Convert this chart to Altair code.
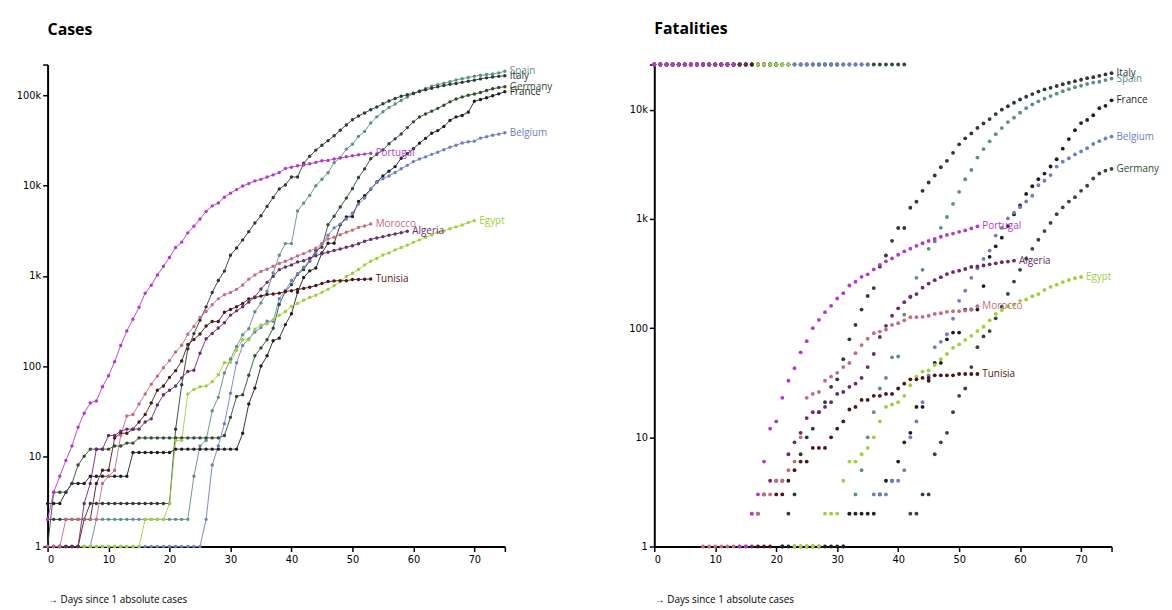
import altair as alt
import pandas as pd

COUNTRIES = ["Spain", "Italy", "France", "Germany", "Belgium",
             "Egypt", "Tunisia", "Algeria", "Morocco", "Portugal"]
COLORS = ["#5d8e8c", "#2b3a33", "#1e1e1e", "#2f4c31", "#6d7ec4",
          "#9fd03a", "#4d1515", "#6a2a6c", "#c46b7c", "#b33ac9"]

X_TICKS = [0, 10, 20, 30, 40, 50, 60, 70, 75]
CASES_TICKS = [1, 10, 100, 1000, 10000, 100000, 219764]
DEATHS_TICKS = [1, 10, 100, 1000, 10000, 25969]

# cumulative confirmed cases, index = days since first case
cases = {
    "Spain": [1, 1, 1, 1, 1, 1, 1, 1, 2, 2, 2, 2, 2, 2, 2, 2, 2, 2, 2, 2, 2, 2, 2, 2,
              6, 13, 15, 32, 45, 84, 120, 165, 222, 259, 400, 500, 673, 1073, 1695, 2277,
              2277, 5232, 6391, 7798, 9942, 11748, 13910, 17963, 20410, 25374, 28768, 35136,
              39885, 49515, 57786, 65719, 73235, 80110, 87956, 95923, 104118, 112065, 119199,
              126168, 131646, 136675, 141942, 148220, 153222, 158273, 163027, 166831, 170099,
              172541, 177644, 184948],
    "Italy": [2, 2, 2, 2, 2, 2, 2, 3, 3, 3, 3, 3, 3, 3, 3, 3, 3, 3, 3, 3, 3,
              20, 62, 155, 229, 322, 453, 655, 888, 1128, 1694, 2036, 2502, 3089, 3858, 4636,
              5883, 7375, 9172, 10149, 12462, 12462, 17660, 21157, 24747, 27980, 31506, 35713,
              41035, 47021, 53578, 59138, 63927, 69176, 74386, 80589, 86498, 92472, 97689,
              101739, 105792, 110574, 115242, 119827, 124632, 128948, 132547, 135586, 139422,
              143626, 147577, 152271, 156363, 159516, 162488, 165155],
    "France": [3, 3, 3, 4, 5, 5, 5, 6, 6, 6, 6, 6, 6, 6, 11, 11, 11, 11, 11, 11, 11,
               12, 12, 12, 12, 12, 12, 12, 12, 12, 12, 12,
               18, 38, 57, 100, 130, 191, 204, 288, 380, 656, 959, 1136, 1219, 1794, 2293,
               2293, 3681, 4496, 4532, 6683, 7715, 9124, 10970, 12758, 14463, 16243, 20123,
               22622, 25600, 29551, 33402, 38105, 40708, 45170, 52827, 57749, 59929, 65202,
               86000, 90000, 94000, 99000, 104000, 110000],
    "Germany": [1, 4, 4, 4, 5, 8, 10, 12, 12, 12, 12, 13, 13, 14, 14,
                16, 16, 16, 16, 16, 16, 16, 16, 16, 16, 16, 16, 16, 16,
                17, 27, 46, 48, 79, 130, 159, 196, 262, 482, 670, 799, 1040, 1176, 1457, 1908,
                2078, 3675, 4585, 5795, 7272, 9257, 12327, 15320, 19848, 22213, 24873, 29056,
                32986, 37323, 43938, 50871, 57695, 62095, 66885, 71808, 77872, 84794, 91159,
                96092, 100123, 103374, 107663, 113296, 118181, 122171, 124908],
    "Belgium": [1, 1, 1, 1, 1, 1, 1, 1, 1, 1, 1, 1, 1, 1, 1, 1, 1, 1, 1, 1, 1, 1, 1, 1, 1, 1,
                2, 8, 13, 23, 50, 109, 169, 200, 239, 267, 314, 314, 559, 689, 886, 1058, 1243,
                1486, 1795, 2257, 2815, 3401, 3743, 4269, 4937, 6235, 7284, 9134, 10836, 11899,
                12775, 13964, 15348, 16770, 18431, 19691, 20814, 22194, 23403, 24983, 26667,
                28018, 29647, 30589, 31119, 33573, 34809, 36138, 37183, 38496],
    "Egypt": [1, 1, 1, 1, 1, 1, 1, 1, 1, 1, 1, 1, 1, 1, 1, 1, 2, 2, 2, 2,
              3, 15, 15, 49, 55, 59, 60, 67, 80, 109, 110, 150, 196, 196, 256, 285, 294, 327,
              366, 402, 456, 495, 536, 576, 609, 656, 710, 779, 865, 985, 1070, 1173, 1322,
              1450, 1560, 1699, 1794, 1939, 2065, 2190, 2350, 2505, 2673, 2844, 3032, 3144,
              3333, 3490, 3659, 3891, 4092],
    "Tunisia": [1, 1, 1, 1, 1, 1, 2, 2, 5, 7, 7, 16, 18, 18, 20, 24, 29, 39, 54, 60, 75, 89,
                114, 173, 197, 227, 278, 312, 312, 394, 423, 455, 495, 553, 574, 596, 623, 628,
                643, 671, 685, 707, 726, 747, 780, 822, 864, 879, 884, 884, 909, 909, 918, 922],
    "Algeria": [1, 1, 1, 1, 1, 1, 3, 5, 12, 12, 17, 17, 19, 20, 20, 20, 24, 26, 37, 48, 54, 60,
                74, 87, 90, 139, 201, 230, 264, 302, 367, 409, 454, 511, 584, 716, 847, 986,
                1171, 1251, 1320, 1423, 1468, 1572, 1666, 1761, 1825, 1914, 1983, 2070, 2160,
                2268, 2418, 2534, 2629, 2718, 2811, 2910, 3007, 3127],
    "Morocco": [1, 1, 1, 2, 2, 2, 2, 2, 2, 5, 6, 7, 17, 28, 29, 38, 49, 63, 77, 96, 115, 143,
                170, 225, 275, 345, 402, 479, 556, 617, 654, 708, 791, 919, 1021, 1120, 1184,
                1275, 1374, 1448, 1545, 1661, 1763, 1888, 2024, 2283, 2564, 2685, 2855, 3046,
                3209, 3446, 3568, 3758],
    "Portugal": [2, 4, 6, 9, 13, 21, 30, 39, 41, 59, 78, 112, 169, 245, 331, 448, 642, 785,
                 1020, 1280, 1600, 2060, 2362, 2995, 3544, 4268, 5170, 5962, 6408, 7443, 8251,
                 9034, 9886, 10524, 11278, 11730, 12442, 13141, 13956, 15472, 15987, 16585,
                 16934, 17448, 18091, 18841, 19022, 19685, 20206, 20863, 21379, 21982, 22353,
                 22797],
}

# cumulative fatalities, same day index (0 = no fatality yet)
deaths = {
    "Spain": [0] * 31 + [1, 2, 3, 5, 10, 17, 28, 35, 54, 55, 133, 195, 289, 342, 533, 623, 830,
                         1043, 1375, 1772, 2311, 2808, 3647, 4365, 5138, 5982, 6803, 7716, 8464,
                         9387, 10348, 11198, 11947, 12641, 13341, 14045, 14792, 15447, 16081,
                         16606, 17209, 17756, 18056, 18708, 19315],
    "Italy": [0] * 21 + [1, 2, 3, 7, 10, 12, 17, 21, 29, 34, 52, 79, 107, 148, 197, 233, 366,
                         463, 631, 827, 827, 1266, 1441, 1809, 2158, 2503, 2978, 3405, 4032, 4825,
                         5476, 6077, 6820, 7503, 8215, 9134, 10023, 10779, 11591, 12428, 13155,
                         13915, 14681, 15362, 15887, 16523, 17127, 17669, 18279, 18849, 19468,
                         19899, 20465, 21067, 21645],
    "France": [0] * 21 + [1, 1, 1, 1, 1, 1, 1, 1, 1, 1, 1, 2, 2, 2, 2, 2,
                          3, 4, 4, 6, 9, 11, 19, 19, 33, 48, 48, 79, 91, 91, 148, 148, 148, 243,
                          450, 562, 674, 860, 1100, 1331, 1696, 1995, 2314, 2606, 3024, 3523,
                          4403, 5387, 6507, 7560, 8078, 8911, 10328, 10869, 12210],
    "Germany": [0] * 42 + [2, 2, 3, 3, 7, 9, 11, 17, 24, 28, 44, 67, 84, 94, 123, 157, 206, 267,
                           342, 433, 533, 645, 775, 920, 1107, 1275, 1444, 1584, 1810, 2016,
                           2349, 2607, 2767, 2871],
    "Belgium": [0] * 36 + [3, 3, 3, 4, 4, 5, 10, 14, 21, 37, 67, 75, 88, 122, 178, 220, 289,
                           353, 431, 513, 705, 828, 1011, 1143, 1283, 1447, 1632, 2035, 2240,
                           2523, 3019, 3346, 3600, 3903, 4157, 4440, 4857, 5163, 5453, 5683],
    "Egypt": [0] * 23 + [1, 1, 1, 1, 1, 2, 2, 2, 4, 6, 6, 7, 8, 10, 14, 19, 20, 21, 24, 30, 36,
                         40, 41, 46, 52, 58, 66, 71, 78, 85, 94, 103, 118, 135, 146, 159, 164,
                         178, 183, 196, 205, 224, 239, 250, 264, 276, 287, 294],
    "Tunisia": [0] * 17 + [1, 1, 1, 3, 3, 4, 5, 6, 6, 8, 8, 8, 10, 12, 14, 18, 19, 22, 22, 24,
                           24, 25, 25, 28, 31, 34, 34, 35, 35, 37, 37, 37, 37, 38, 38, 38, 38],
    "Algeria": [0] * 16 + [1, 2, 3, 4, 4, 4, 7, 9, 11, 15, 17, 17, 19, 21, 25, 26, 29, 31, 35,
                           44, 58, 83, 105, 130, 152, 173, 193, 205, 235, 256, 275, 293, 313,
                           326, 336, 348, 364, 367, 375, 384, 392, 402, 407, 415],
    "Morocco": [0] * 8 + [1, 1, 1, 1, 1, 1, 1, 1, 2, 2, 3, 3, 4, 4, 5, 6, 10, 23, 25, 26, 33,
                          36, 39, 44, 48, 59, 70, 80, 90, 93, 97, 107, 111, 118, 126, 126, 127,
                          130, 135, 137, 141, 143, 143, 145, 149, 159],
    "Portugal": [0] * 14 + [1, 1, 2, 3, 6, 12, 14, 23, 33, 43, 60, 76, 100, 119, 140, 160, 187,
                            209, 246, 266, 295, 311, 345, 380, 409, 435, 470, 504, 535, 567,
                            599, 629, 657, 687, 714, 735, 762, 785, 820, 854],
}


def long_df(series):
    rows = []
    for c in COUNTRIES:
        for d, v in enumerate(series[c]):
            rows.append({"country": c, "day": d, "value": v})
    return pd.DataFrame(rows)


def last_df(series):
    rows = []
    for c in COUNTRIES:
        vals = series[c]
        rows.append({"country": c, "day": len(vals) - 1, "value": vals[-1]})
    return pd.DataFrame(rows)


cases_df = long_df(cases)
deaths_df = long_df(deaths)
deaths_pos = deaths_df[deaths_df["value"] > 0]
deaths_zero = deaths_df[deaths_df["value"] == 0]

LABEL_FONT = "Liberation Sans Narrow, DejaVu Sans Condensed, Roboto, sans-serif"
TEXT_FONT = "Open Sans, Noto Sans, sans-serif"

color = alt.Color("country:N", scale=alt.Scale(domain=COUNTRIES, range=COLORS), legend=None)

x_axis = alt.Axis(values=X_TICKS, labelExpr="datum.value == 75 ? '' : datum.label",
                  title="→ Days since 1 absolute cases", titleAnchor="start", titleAlign="left",
                  titlePadding=31, titleFont=TEXT_FONT, titleFontSize=10,
                  titleFontWeight="normal", titleColor="black")
x_enc = alt.X("day:Q", scale=alt.Scale(domain=[0, 75], nice=False, zero=False), axis=x_axis)


def y_enc(domain_max, ticks):
    return alt.Y("value:Q",
                 scale=alt.Scale(type="log", domain=[1, domain_max], nice=False),
                 axis=alt.Axis(values=ticks, format="~s", title=None,
                               labelExpr="datum.value > 20000 && datum.value != 100000 ? '' : datum.label",
                               minExtent=34, maxExtent=34))


W, H = 462, 487

y_cases = y_enc(219764, CASES_TICKS)
base_c = alt.Chart(cases_df)
lines = base_c.mark_line(strokeWidth=0.9).encode(x=x_enc, y=y_cases, color=color, detail="country:N")
pts_c = base_c.mark_circle(size=12, opacity=1).encode(x=x_enc, y=y_cases, color=color)
lab_c = alt.Chart(last_df(cases)).mark_text(align="left", dx=5, baseline="middle", fontSize=10,
                                            font=TEXT_FONT).encode(
    x=x_enc, y=y_cases, text="country:N", color=color)

left = alt.layer(lines, pts_c, lab_c).properties(
    width=W, height=H,
    title=alt.TitleParams("Cases", anchor="start", frame="group", fontSize=16, fontWeight="bold",
                          font=TEXT_FONT, color="black", offset=26))

y_deaths = y_enc(25969, DEATHS_TICKS)
pts_d = alt.Chart(deaths_pos).mark_circle(size=15, opacity=1).encode(x=x_enc, y=y_deaths, color=color)
pts_z = alt.Chart(deaths_zero).mark_circle(size=15, opacity=1).encode(x=x_enc, y=alt.value(0), color=color)
lab_d = alt.Chart(last_df(deaths)).mark_text(align="left", dx=5, baseline="middle", fontSize=10,
                                             font=TEXT_FONT).encode(
    x=x_enc, y=y_deaths, text="country:N", color=color)

right = alt.layer(pts_z, pts_d, lab_d).properties(
    width=W, height=H,
    title=alt.TitleParams("Fatalities", anchor="start", frame="group", fontSize=16,
                          fontWeight="bold", font=TEXT_FONT, color="black", offset=26))

chart = alt.hconcat(left, right, spacing=151, bounds="flush").properties(
    padding={"left": 6, "top": 10, "right": 5, "bottom": 0}
).configure_axis(
    domainColor="black", domainWidth=2, tickColor="black", tickWidth=1.5, tickSize=5,
    labelColor="black", labelFont=LABEL_FONT, labelFontSize=11, grid=False, labelPadding=2
).configure_view(stroke=None)

chart.save("out.html", embed_options={"renderer": "svg", "actions": False})
